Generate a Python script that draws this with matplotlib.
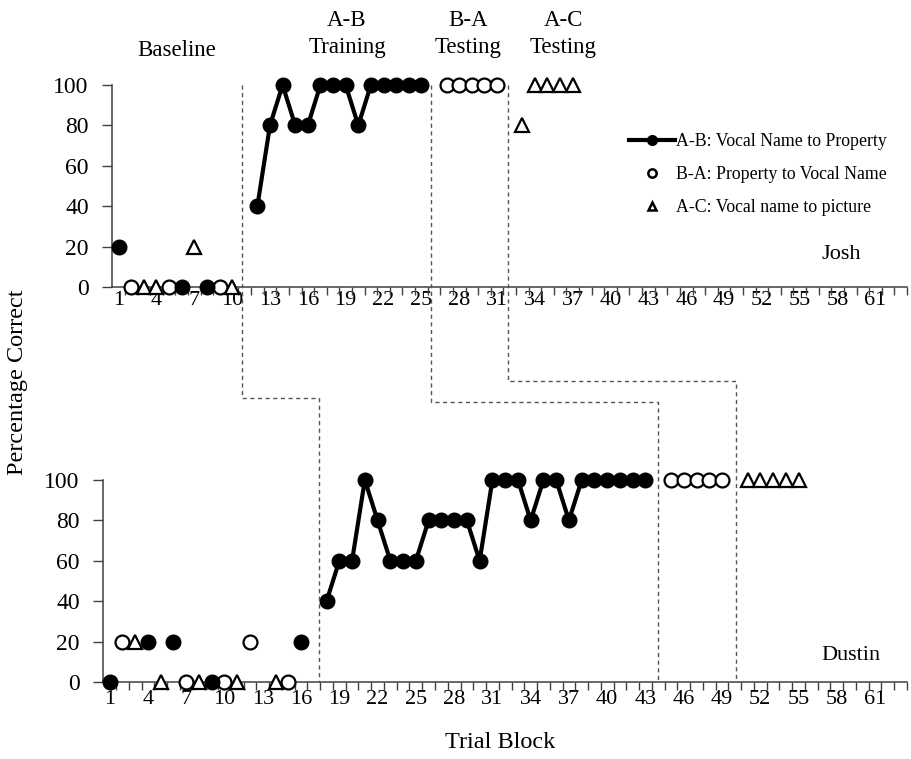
import matplotlib
matplotlib.use("Agg")
import matplotlib.pyplot as plt
from matplotlib.lines import Line2D

plt.rcParams['font.family'] = ['Liberation Serif', 'DejaVu Serif']

# ---------------- data ----------------
# Josh (top panel)
josh_ab_base_x = [1, 6, 8]
josh_ab_base_y = [20, 0, 0]
josh_ab_train_x = list(range(12, 26))
josh_ab_train_y = [40, 80, 100, 80, 80, 100, 100, 100, 80, 100, 100, 100, 100, 100]
josh_ba_x = [2, 5, 9, 27, 28, 29, 30, 31]
josh_ba_y = [0, 0, 0, 100, 100, 100, 100, 100]
josh_ac_x = [3, 4, 7, 10, 33, 34, 35, 36, 37]
josh_ac_y = [0, 0, 20, 0, 80, 100, 100, 100, 100]
josh_phase_x = [10.8, 25.8, 31.85]

# Dustin (bottom panel)
dustin_ab_base_x = [1, 4, 6, 9, 16]
dustin_ab_base_y = [0, 20, 20, 0, 20]
dustin_ab_train_x = list(range(18, 44))
dustin_ab_train_y = [40, 60, 60, 100, 80, 60, 60, 60, 80, 80, 80, 80, 60,
                     100, 100, 100, 80, 100, 100, 80, 100, 100, 100, 100, 100, 100]
dustin_ba_x = [2, 7, 10, 12, 15, 45, 46, 47, 48, 49]
dustin_ba_y = [20, 0, 0, 20, 0, 100, 100, 100, 100, 100]
dustin_ac_x = [3, 5, 8, 11, 14, 51, 52, 53, 54, 55]
dustin_ac_y = [20, 0, 0, 0, 0, 100, 100, 100, 100, 100]
dustin_phase_x = [17.4, 44.0, 50.1]

n_blocks = 63
xtick_labels = list(range(1, 62, 3))
yticks = [0, 20, 40, 60, 80, 100]

legend_labels = ["A-B: Vocal Name to Property",
                 "B-A: Property to Vocal Name",
                 "A-C: Vocal name to picture"]
phase_titles = [("Baseline",), ("A-B", "Training"), ("B-A", "Testing"), ("A-C", "Testing")]

# ---------------- figure ----------------
W, H = 912, 759
fig = plt.figure(figsize=(W / 100, H / 100), dpi=100)

def px_axes(left, right, top, bottom):
    return fig.add_axes([left / W, 1 - bottom / H, (right - left) / W, (bottom - top) / H])

ax1 = px_axes(112.3, 907, 85, 287)
ax2 = px_axes(103.3, 907, 480, 682)

axis_col = '#404040'
ms_fill = 10.5
ms_open = 10
ms_tri = 10

def style(ax, xpad):
    ax.set_xlim(0.5, n_blocks + 0.5)
    ax.set_ylim(0, 100)
    for s in ['top', 'right']:
        ax.spines[s].set_visible(False)
    for s in ['left', 'bottom']:
        ax.spines[s].set_color(axis_col)
        ax.spines[s].set_linewidth(1.1)
    ax.set_yticks(yticks)
    ax.set_yticklabels([str(v) for v in yticks], fontsize=17)
    ax.set_xticks(xtick_labels)
    ax.set_xticklabels([str(v) for v in xtick_labels], fontsize=16)
    ax.set_xticks([i + 0.5 for i in range(1, n_blocks + 1)], minor=True)
    ax.tick_params(axis='x', which='major', length=0, pad=xpad)
    ax.tick_params(axis='x', which='minor', length=6, width=1, color=axis_col, direction='out')
    ax.tick_params(axis='y', length=7, width=1, color=axis_col, direction='out', pad=10)

def plot_panel(ax, abb_x, abb_y, abt_x, abt_y, ba_x, ba_y, ac_x, ac_y):
    ax.plot(abt_x, abt_y, '-', color='black', lw=3, marker='o', ms=ms_fill,
            mfc='black', mec='black', clip_on=False, zorder=4)
    ax.plot(ba_x, ba_y, 'o', ms=ms_open, mfc='white', mec='black', mew=1.6,
            clip_on=False, zorder=3)
    ax.plot(ac_x, ac_y, '^', ms=ms_tri, mfc='white', mec='black', mew=1.6,
            clip_on=False, zorder=3)
    ax.plot(abb_x, abb_y, 'o', ms=ms_fill, mfc='black', mec='black',
            clip_on=False, zorder=5)

style(ax1, 3)
style(ax2, 6)
plot_panel(ax1, josh_ab_base_x, josh_ab_base_y, josh_ab_train_x, josh_ab_train_y,
           josh_ba_x, josh_ba_y, josh_ac_x, josh_ac_y)
plot_panel(ax2, dustin_ab_base_x, dustin_ab_base_y, dustin_ab_train_x, dustin_ab_train_y,
           dustin_ba_x, dustin_ba_y, dustin_ac_x, dustin_ac_y)

# participant names
ax1.text(0.917, 0.16, "Josh", transform=ax1.transAxes, fontsize=16, ha='center', va='center')
ax2.text(0.93, 0.13, "Dustin", transform=ax2.transAxes, fontsize=16, ha='center', va='center')

# legend
handles = [
    Line2D([], [], color='black', lw=3, marker='o', ms=7),
    Line2D([], [], ls='none', marker='o', ms=6, mfc='white', mec='black', mew=1.8),
    Line2D([], [], ls='none', marker='^', ms=6, mfc='white', mec='black', mew=1.8),
]
ax1.legend(handles, legend_labels, loc='upper left',
           bbox_to_anchor=(620 / W, 1 - 124 / H), bbox_transform=fig.transFigure,
           frameon=False, fontsize=12.8, handlelength=2.6, handletextpad=0.05,
           labelspacing=0.9, borderpad=0)

# dashed phase-change lines spanning both panels
step_y_px = [398, 402, 381]
top_px = ax1.transData.transform((1, 100))[1]
bot_px = ax2.transData.transform((1, 0))[1]
for xt, xb, sy in zip(josh_phase_x, dustin_phase_x, step_y_px):
    x_top = ax1.transData.transform((xt, 0))[0]
    x_bot = ax2.transData.transform((xb, 0))[0]
    y_step = H - sy
    xs = [x_top / W, x_top / W, x_bot / W, x_bot / W]
    ys = [(top_px) / H, y_step / H, y_step / H, bot_px / H]
    fig.add_artist(Line2D(xs, ys, transform=fig.transFigure, color='#555555',
                          lw=1.0, ls=(0, (3, 2.5))))

# phase titles
fig.text(177 / W, 1 - 50 / H, "Baseline", fontsize=16.5, ha='center', va='center')
for xc, (l1, l2) in zip([347, 468, 563], phase_titles[1:]):
    fig.text(xc / W, 1 - 20 / H, l1, fontsize=16.5, ha='center', va='center')
    fig.text(xc / W, 1 - 47 / H, l2, fontsize=16.5, ha='center', va='center')

# axis titles
fig.text(18 / W, 1 - 382 / H, "Percentage Correct", fontsize=17.5, rotation=90,
         ha='center', va='center')
fig.text(500 / W, 1 - 742 / H, "Trial Block", fontsize=17.5, ha='center', va='center')

fig.savefig("out.png", dpi=100)
